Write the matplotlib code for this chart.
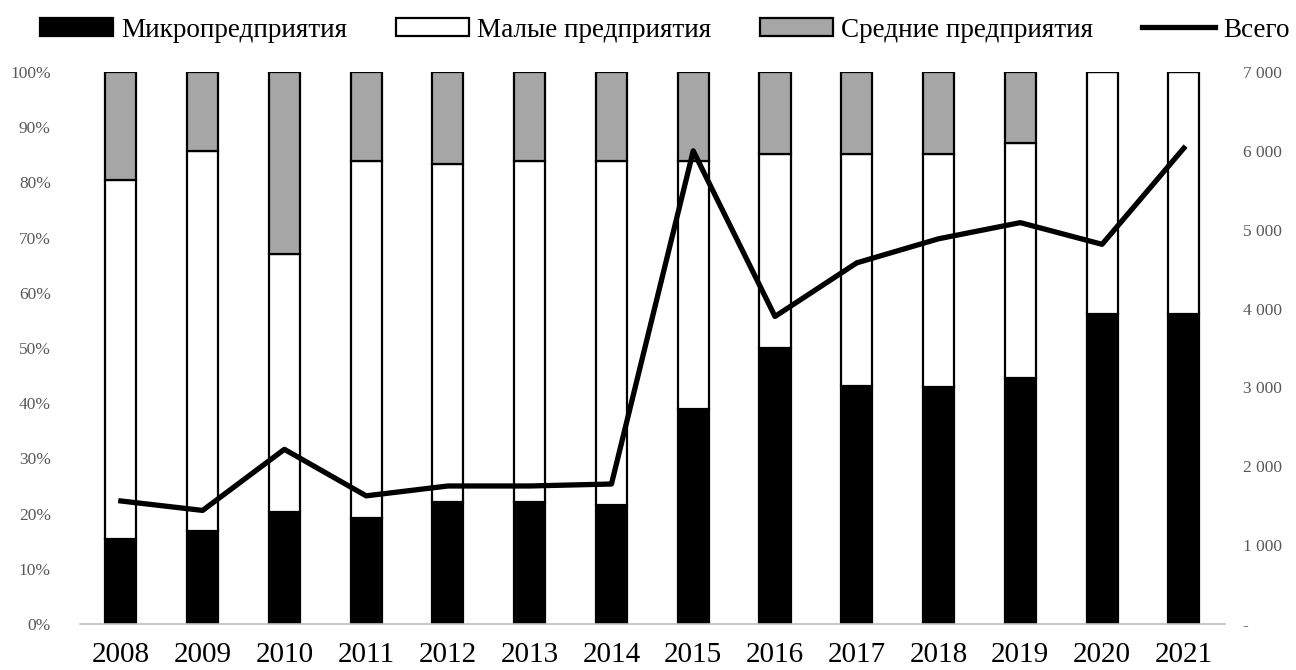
import matplotlib
matplotlib.use("Agg")
import matplotlib.pyplot as plt
import numpy as np
from matplotlib.patches import Patch
from matplotlib.lines import Line2D

plt.rcParams['font.family'] = ['Liberation Serif', 'DejaVu Serif']

years = ['2008', '2009', '2010', '2011', '2012', '2013', '2014',
         '2015', '2016', '2017', '2018', '2019', '2020', '2021']
micro = [15.4, 16.9, 20.2, 19.2, 22.1, 22.1, 21.6, 38.9, 50.0, 43.2, 42.9, 44.6, 56.2, 56.2]
small = [65.1, 68.8, 46.8, 64.6, 61.3, 61.8, 62.3, 45.0, 35.2, 42.0, 42.3, 42.5, 43.8, 43.8]
medium = [19.5, 14.3, 33.0, 16.2, 16.6, 16.1, 16.1, 16.1, 14.8, 14.8, 14.8, 12.9, 0.0, 0.0]
total = [1560, 1440, 2215, 1625, 1750, 1750, 1775, 6000, 3900, 4580, 4885, 5090, 4815, 6035]

left_ticks = [0, 10, 20, 30, 40, 50, 60, 70, 80, 90, 100]
left_labels = [f"{v}%" for v in left_ticks]
right_ticks = [0, 1000, 2000, 3000, 4000, 5000, 6000, 7000]
right_labels = ['-', '1 000', '2 000', '3 000', '4 000', '5 000', '6 000', '7 000']

legend_labels = ['Микропредприятия', 'Малые предприятия', 'Средние предприятия', 'Всего']

fig = plt.figure(figsize=(12.96, 6.7), dpi=100)
ax = fig.add_axes([0.0617, 0.0687, 0.8833, 0.8238])

x = np.arange(len(years))
w = 0.38
micro_a = np.array(micro)
small_a = np.array(small)
medium_a = np.array(medium)
ax.bar(x, micro_a, w, color='black', edgecolor='black', linewidth=1.6)
ax.bar(x, small_a, w, bottom=micro_a, color='white', edgecolor='black', linewidth=1.6)
ax.bar(x, medium_a, w, bottom=micro_a + small_a, color='#a6a6a6', edgecolor='black', linewidth=1.6)

ax.set_ylim(0, 100)
ax.set_xlim(-0.5, 13.5)
ax.set_yticks(left_ticks)
ax.set_yticklabels(left_labels, color='#595959', fontsize=12.5)
ax.set_xticks(x)
ax.set_xticklabels(years, fontsize=21, color='black')
ax.tick_params(axis='both', length=0)
ax.tick_params(axis='x', pad=13)
ax.tick_params(axis='y', pad=21)
for s in ['top', 'right', 'left']:
    ax.spines[s].set_visible(False)
ax.spines['bottom'].set_color('#bfbfbf')
ax.spines['bottom'].set_linewidth(1.2)

ax2 = ax.twinx()
ax2.plot(x, total, color='black', linewidth=3.8)
ax2.set_ylim(0, 7000)
ax2.set_yticks(right_ticks)
ax2.set_yticklabels(right_labels, color='#595959', fontsize=12.5)
ax2.tick_params(axis='y', length=0, pad=13)
for s in ['top', 'right', 'left', 'bottom']:
    ax2.spines[s].set_visible(False)

handles = [Patch(facecolor='black', edgecolor='black', linewidth=1.6),
           Patch(facecolor='white', edgecolor='black', linewidth=1.6),
           Patch(facecolor='#a6a6a6', edgecolor='black', linewidth=1.6),
           Line2D([0], [0], color='black', linewidth=3.8)]
fig.legend(handles, legend_labels, loc='upper center', bbox_to_anchor=(0.513, 1.01),
           ncol=4, frameon=False, fontsize=19.5, handlelength=2.7, handleheight=0.63,
           handletextpad=0.3, columnspacing=1.8)

fig.savefig('out.png', dpi=100)
